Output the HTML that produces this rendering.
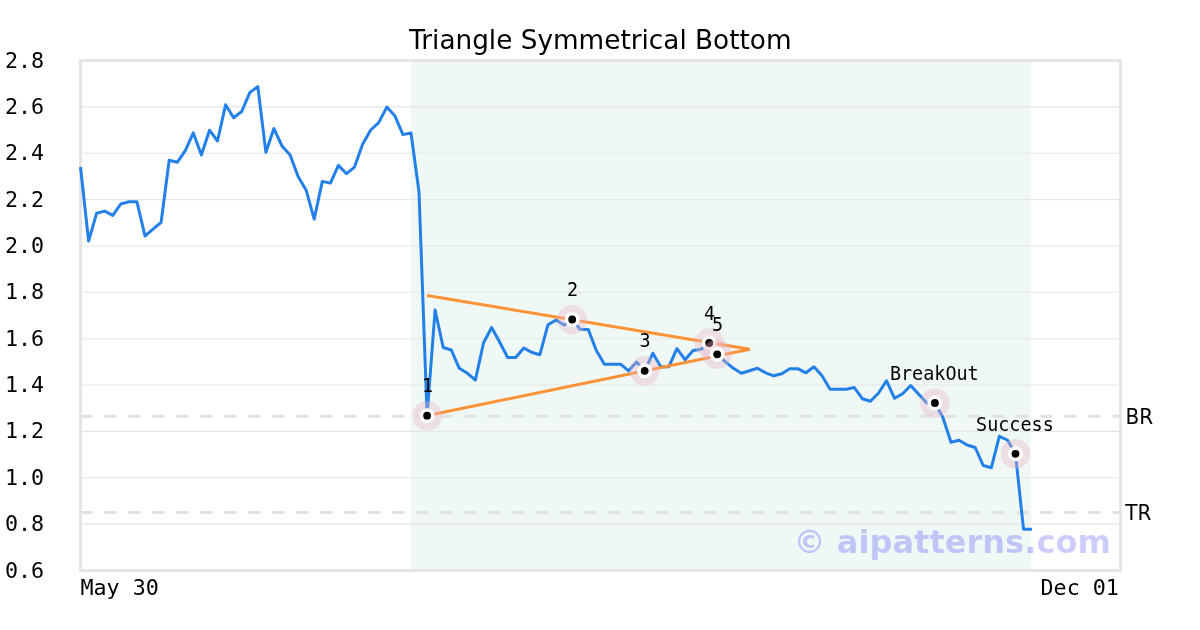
<!DOCTYPE html>
<html lang="en"><head><meta charset="utf-8"><title>Triangle Symmetrical Bottom</title>
<style>html,body{margin:0;padding:0;background:#fff}svg{display:block}</style></head>
<body>
<svg width="1200" height="630" viewBox="0 0 1200 630">
<rect width="1200" height="630" fill="#fff"/>
<rect x="410.6" y="60.5" width="620.5" height="510.0" fill="#eff8f5"/>
<line x1="80.5" x2="1120.5" y1="524.1" y2="524.1" stroke="#e6e6e6" stroke-width="1.1"/>
<line x1="80.5" x2="1120.5" y1="477.8" y2="477.8" stroke="#e6e6e6" stroke-width="1.1"/>
<line x1="80.5" x2="1120.5" y1="431.4" y2="431.4" stroke="#e6e6e6" stroke-width="1.1"/>
<line x1="80.5" x2="1120.5" y1="385.0" y2="385.0" stroke="#e6e6e6" stroke-width="1.1"/>
<line x1="80.5" x2="1120.5" y1="338.7" y2="338.7" stroke="#e6e6e6" stroke-width="1.1"/>
<line x1="80.5" x2="1120.5" y1="292.3" y2="292.3" stroke="#e6e6e6" stroke-width="1.1"/>
<line x1="80.5" x2="1120.5" y1="246.0" y2="246.0" stroke="#e6e6e6" stroke-width="1.1"/>
<line x1="80.5" x2="1120.5" y1="199.6" y2="199.6" stroke="#e6e6e6" stroke-width="1.1"/>
<line x1="80.5" x2="1120.5" y1="153.2" y2="153.2" stroke="#e6e6e6" stroke-width="1.1"/>
<line x1="80.5" x2="1120.5" y1="106.9" y2="106.9" stroke="#e6e6e6" stroke-width="1.1"/>
<line x1="80.5" x2="1120.5" y1="416.3" y2="416.3" stroke="#e1e1e1" stroke-width="3" stroke-dasharray="12 12"/>
<line x1="80.5" x2="1120.5" y1="512.5" y2="512.5" stroke="#e1e1e1" stroke-width="3" stroke-dasharray="12 12"/>
<rect x="80.5" y="60.5" width="1040.0" height="510.0" fill="none" stroke="#e3e3e3" stroke-width="2.78"/>
<text x="1110.9" y="552.5" text-anchor="end" font-family="'DejaVu Sans', sans-serif" font-weight="bold" font-size="32.1" fill="#0000ff" fill-opacity="0.2">© aipatterns.com</text>
<polyline points="80.5,167.0 88.6,241.0 96.6,213.3 104.7,211.1 112.7,215.4 120.8,204.0 128.9,201.7 136.9,201.7 145.0,236.0 153.0,229.2 161.1,222.4 169.2,160.2 177.2,162.3 185.3,150.7 193.3,132.9 201.4,155.0 209.5,130.2 217.5,141.0 225.6,104.8 233.6,117.8 241.7,111.5 249.8,92.6 257.8,86.6 265.9,152.3 273.9,128.6 282.0,146.0 290.1,155.1 298.1,176.6 306.2,190.3 314.2,219.1 322.3,181.4 330.4,183.1 338.4,165.4 346.5,173.7 354.5,167.1 362.6,144.3 370.7,130.0 378.7,122.6 386.8,107.1 394.8,115.7 402.9,134.6 411.0,133.0 419.0,192.0 427.1,415.7 435.1,310.0 443.2,347.5 451.3,350.0 459.3,368.3 467.4,373.3 475.4,380.0 483.5,343.0 491.6,327.5 499.6,342.0 507.7,357.5 515.7,357.5 523.8,348.0 531.9,352.5 539.9,354.7 548.0,324.7 556.0,320.0 564.1,325.0 572.2,319.5 580.2,329.2 588.3,329.5 596.3,350.5 604.4,364.2 612.5,364.2 620.5,364.2 628.6,370.8 636.6,362.0 644.7,370.8 652.8,353.3 660.8,366.7 668.9,366.7 676.9,348.7 685.0,359.7 693.1,350.4 701.1,349.2 709.2,343.0 717.2,354.3 725.3,361.7 733.4,368.3 741.4,373.3 749.5,370.8 757.5,368.3 765.6,372.8 773.7,375.8 781.7,373.8 789.8,368.7 797.8,368.7 805.9,372.8 814.0,366.7 822.0,375.8 830.1,389.3 838.1,389.3 846.2,389.3 854.3,387.5 862.3,398.7 870.4,401.2 878.4,393.3 886.5,380.8 894.6,398.3 902.6,393.7 910.7,385.5 918.7,394.3 926.8,403.0 934.9,403.0 942.9,417.5 951.0,442.3 959.0,440.2 967.1,445.0 975.2,447.5 983.2,465.5 991.3,467.8 999.3,436.3 1007.4,440.0 1015.5,453.8 1023.5,529.2 1031.9,529.2" fill="none" stroke="#2380e8" stroke-width="3" stroke-linejoin="round" stroke-linecap="butt"/>
<line x1="427" y1="295.4" x2="749.7" y2="349.3" stroke="#fc9238" stroke-width="3"/>
<line x1="426.5" y1="415.7" x2="749.7" y2="349.3" stroke="#fc9238" stroke-width="3"/>
<circle cx="427.1" cy="415.7" r="14.8" fill="#e8b4c4" fill-opacity="0.37"/>
<circle cx="427.1" cy="415.7" r="7.5" fill="#fff"/>
<circle cx="427.1" cy="415.7" r="3.9" fill="#000"/>
<circle cx="572.2" cy="319.5" r="14.8" fill="#e8b4c4" fill-opacity="0.37"/>
<circle cx="572.2" cy="319.5" r="7.5" fill="#fff"/>
<circle cx="572.2" cy="319.5" r="3.9" fill="#000"/>
<circle cx="644.7" cy="370.8" r="14.8" fill="#e8b4c4" fill-opacity="0.37"/>
<circle cx="644.7" cy="370.8" r="7.5" fill="#fff"/>
<circle cx="644.7" cy="370.8" r="3.9" fill="#000"/>
<circle cx="709.2" cy="343.0" r="14.8" fill="#e8b4c4" fill-opacity="0.37"/>
<circle cx="709.2" cy="343.0" r="7.5" fill="#fff"/>
<circle cx="709.2" cy="343.0" r="3.9" fill="#000"/>
<circle cx="717.2" cy="354.3" r="14.8" fill="#e8b4c4" fill-opacity="0.37"/>
<circle cx="717.2" cy="354.3" r="7.5" fill="#fff"/>
<circle cx="717.2" cy="354.3" r="3.9" fill="#000"/>
<circle cx="934.9" cy="403.0" r="14.8" fill="#e8b4c4" fill-opacity="0.37"/>
<circle cx="934.9" cy="403.0" r="7.5" fill="#fff"/>
<circle cx="934.9" cy="403.0" r="3.9" fill="#000"/>
<circle cx="1015.5" cy="453.8" r="14.8" fill="#e8b4c4" fill-opacity="0.37"/>
<circle cx="1015.5" cy="453.8" r="7.5" fill="#fff"/>
<circle cx="1015.5" cy="453.8" r="3.9" fill="#000"/>
<text transform="translate(427.5,392.2) scale(0.955,1)" text-anchor="middle" font-family="'DejaVu Sans Mono', monospace" font-size="19.3" fill="#000">1</text>
<text transform="translate(572.6,296.0) scale(0.955,1)" text-anchor="middle" font-family="'DejaVu Sans Mono', monospace" font-size="19.3" fill="#000">2</text>
<text transform="translate(645.1,347.3) scale(0.955,1)" text-anchor="middle" font-family="'DejaVu Sans Mono', monospace" font-size="19.3" fill="#000">3</text>
<text transform="translate(709.6,319.5) scale(0.955,1)" text-anchor="middle" font-family="'DejaVu Sans Mono', monospace" font-size="19.3" fill="#000">4</text>
<text transform="translate(717.6,330.8) scale(0.955,1)" text-anchor="middle" font-family="'DejaVu Sans Mono', monospace" font-size="19.3" fill="#000">5</text>
<text transform="translate(934.3,380.1) scale(0.955,1)" text-anchor="middle" font-family="'DejaVu Sans Mono', monospace" font-size="19.3" fill="#000">BreakOut</text>
<text transform="translate(1014.9,430.9) scale(0.955,1)" text-anchor="middle" font-family="'DejaVu Sans Mono', monospace" font-size="19.3" fill="#000">Success</text>
<text x="5" y="577.5" font-family="'DejaVu Sans Mono', monospace" font-size="21.7" fill="#000">0.6</text>
<text x="5" y="531.1" font-family="'DejaVu Sans Mono', monospace" font-size="21.7" fill="#000">0.8</text>
<text x="5" y="484.8" font-family="'DejaVu Sans Mono', monospace" font-size="21.7" fill="#000">1.0</text>
<text x="5" y="438.4" font-family="'DejaVu Sans Mono', monospace" font-size="21.7" fill="#000">1.2</text>
<text x="5" y="392.0" font-family="'DejaVu Sans Mono', monospace" font-size="21.7" fill="#000">1.4</text>
<text x="5" y="345.7" font-family="'DejaVu Sans Mono', monospace" font-size="21.7" fill="#000">1.6</text>
<text x="5" y="299.3" font-family="'DejaVu Sans Mono', monospace" font-size="21.7" fill="#000">1.8</text>
<text x="5" y="253.0" font-family="'DejaVu Sans Mono', monospace" font-size="21.7" fill="#000">2.0</text>
<text x="5" y="206.6" font-family="'DejaVu Sans Mono', monospace" font-size="21.7" fill="#000">2.2</text>
<text x="5" y="160.2" font-family="'DejaVu Sans Mono', monospace" font-size="21.7" fill="#000">2.4</text>
<text x="5" y="113.9" font-family="'DejaVu Sans Mono', monospace" font-size="21.7" fill="#000">2.6</text>
<text x="5" y="67.5" font-family="'DejaVu Sans Mono', monospace" font-size="21.7" fill="#000">2.8</text>
<text x="80.5" y="595.2" font-family="'DejaVu Sans Mono', monospace" font-size="21.7" fill="#000">May 30</text>
<text x="1118.9" y="595.2" text-anchor="end" font-family="'DejaVu Sans Mono', monospace" font-size="21.7" fill="#000">Dec 01</text>
<text transform="translate(1125.4,424) scale(0.955,1)" font-family="'DejaVu Sans', sans-serif" font-size="21" fill="#000">BR</text>
<text transform="translate(1125.3,520.2) scale(0.955,1)" font-family="'DejaVu Sans', sans-serif" font-size="21" fill="#000">TR</text>
<text x="600.3" y="49" text-anchor="middle" font-family="'DejaVu Sans', sans-serif" font-size="26.3" fill="#000">Triangle Symmetrical Bottom</text>
</svg>
</body></html>
